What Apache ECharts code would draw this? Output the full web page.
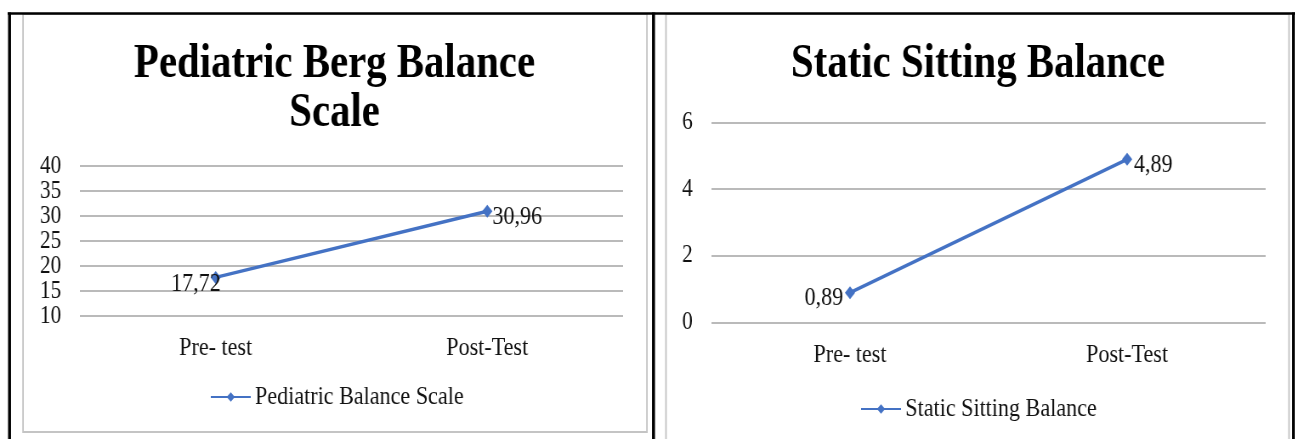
<!DOCTYPE html>
<html>
<head>
<meta charset="utf-8">
<script src="https://cdn.jsdelivr.net/npm/echarts@6/dist/echarts.min.js"></script>
<style>
  html, body { margin: 0; padding: 0; background: #ffffff; overflow: hidden; }
  #wrap { width: 1295px; height: 439px; overflow: hidden; position: relative; }
  #chart { width: 1524px; height: 439px; transform: scaleX(0.85); transform-origin: 0 0; }
</style>
</head>
<body>
<div id="wrap"><div id="chart"></div></div>
<script>
// ---- data ----
const categories = ['Pre- test', 'Post-Test'];
const pbsName = 'Pediatric Balance Scale';
const pbsTitle = 'Pediatric Berg Balance\nScale';
const pbsValues = [17.72, 30.96];
const pbsTicks = [10, 15, 20, 25, 30, 35, 40];
const ssbName = 'Static Sitting Balance';
const ssbTitle = 'Static Sitting Balance';
const ssbValues = [0.89, 4.89];
const ssbTicks = [0, 2, 4, 6];

// ---- styles ----
const FONT = '"Liberation Serif", "Times New Roman", serif';
const TXT = '#111111';
const BLUE = '#4472C4';
const GRIDC = '#a3a3a3';

function yAxis(gridIndex, ticks) {
  return {
    type: 'value', gridIndex: gridIndex,
    min: ticks[0], max: ticks[ticks.length - 1], interval: ticks[1] - ticks[0],
    axisLine: { show: false }, axisTick: { show: false },
    axisLabel: { color: TXT, fontFamily: FONT, fontSize: 25, margin: 22 },
    splitLine: { lineStyle: { color: GRIDC, width: 1.6 } }
  };
}
function xAxis(gridIndex, margin) {
  return {
    type: 'category', gridIndex: gridIndex, data: categories, boundaryGap: true,
    axisLine: { show: false }, axisTick: { show: false },
    axisLabel: { color: TXT, fontFamily: FONT, fontSize: 26, margin: margin },
    splitLine: { show: false }
  };
}
const fmt = p => String(p.value).replace('.', ',');
function lineSeries(name, data, idx, offs) {
  return {
    type: 'line', name: name, xAxisIndex: idx, yAxisIndex: idx, data: data.map((v, i) => ({
      value: v,
      label: { position: i === 0 ? 'left' : 'right', offset: offs[i] }
    })),
    symbol: 'diamond', symbolSize: [12, 13],
    lineStyle: { color: BLUE, width: 3.5 },
    itemStyle: { color: BLUE },
    label: { show: true, formatter: fmt, color: TXT, fontFamily: FONT, fontSize: 26 }
  };
}

const chart = echarts.init(document.getElementById('chart'), null, { renderer: 'canvas' });
chart.setOption({
  animation: false,
  backgroundColor: '#ffffff',
  title: [
    { text: pbsTitle, left: 393.5, textAlign: 'center', top: 40, padding: 0,
      textStyle: { fontFamily: FONT, fontWeight: 'bold', fontSize: 48, lineHeight: 49, color: '#000' } },
    { text: ssbTitle, left: 1150.6, textAlign: 'center', top: 40, padding: 0,
      textStyle: { fontFamily: FONT, fontWeight: 'bold', fontSize: 48, lineHeight: 49, color: '#000' } }
  ],
  legend: [
    { data: [pbsName], left: 247, top: 384, padding: 0, itemWidth: 47, itemHeight: 12, itemGap: 10,
      textStyle: { fontFamily: FONT, fontSize: 26, color: TXT } },
    { data: [ssbName], left: 1012, top: 396, padding: 0, itemWidth: 47, itemHeight: 12, itemGap: 10,
      textStyle: { fontFamily: FONT, fontSize: 26, color: TXT } }
  ],
  grid: [
    { left: 94, width: 639, top: 166, height: 150 },
    { left: 837, width: 652, top: 122.3, height: 200 }
  ],
  xAxis: [xAxis(0, 19), xAxis(1, 20)],
  yAxis: [yAxis(0, pbsTicks), yAxis(1, ssbTicks)],
  series: [
    lineSeries(pbsName, pbsValues, 0, [[17, 7], [-5, 6]]),
    lineSeries(ssbName, ssbValues, 1, [[3, 6], [-3, 6]])
  ],
  graphic: [
    { type: 'rect', shape: { x: 27.1, y: 14, width: 734, height: 418 }, style: { fill: 'none', stroke: '#c4c4c4', lineWidth: 1.8 }, z: 100 },
    { type: 'rect', shape: { x: 783.5, y: 14, width: 733, height: 440 }, style: { fill: 'none', stroke: '#c4c4c4', lineWidth: 1.8 }, z: 100 },
    { type: 'line', shape: { x1: 9, y1: 13.5, x2: 1524, y2: 13.5 }, style: { stroke: '#000', lineWidth: 2.5 }, z: 101 },
    { type: 'line', shape: { x1: 11.2, y1: 12.5, x2: 11.2, y2: 439 }, style: { stroke: '#000', lineWidth: 3.5 }, z: 101 },
    { type: 'line', shape: { x1: 768.8, y1: 12.5, x2: 768.8, y2: 439 }, style: { stroke: '#000', lineWidth: 3.5 }, z: 101 },
    { type: 'line', shape: { x1: 1521.8, y1: 12.5, x2: 1521.8, y2: 439 }, style: { stroke: '#000', lineWidth: 3.5 }, z: 101 }
  ]
});
</script>
</body>
</html>
